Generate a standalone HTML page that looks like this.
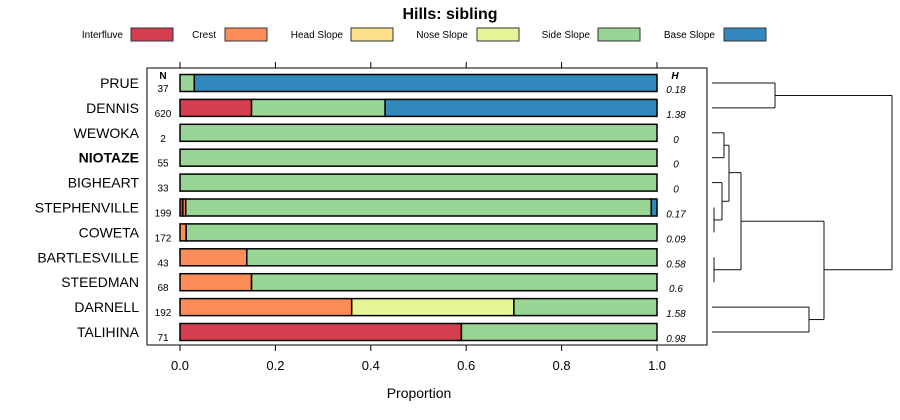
<!DOCTYPE html>
<html><head><meta charset="utf-8"><style>
body{margin:0;background:#fff;}
svg{display:block;font-family:"Liberation Sans",sans-serif;}
</style></head><body>
<svg id="c" width="900" height="420"></svg>
<script>
const categories=["PRUE","DENNIS","WEWOKA","NIOTAZE","BIGHEART","STEPHENVILLE","COWETA","BARTLESVILLE","STEEDMAN","DARNELL","TALIHINA"];
const nValues=[37,620,2,55,33,199,172,43,68,192,71];
const hValues=["0.18","1.38","0","0","0","0.17","0.09","0.58","0.6","1.58","0.98"];
const seriesNames=["Interfluve","Crest","Head Slope","Nose Slope","Side Slope","Base Slope"];
const interfluve=[0,0.15,0,0,0,0.006,0,0,0,0,0.59];
const crest=[0,0,0,0,0,0.006,0.013,0.14,0.15,0.36,0];
const headSlope=[0,0,0,0,0,0,0,0,0,0,0];
const noseSlope=[0,0,0,0,0,0,0,0,0,0.34,0];
const sideSlope=[0.03,0.28,1,1,1,0.976,0.987,0.86,0.85,0.30,0.41];
const baseSlope=[0.97,0.57,0,0,0,0.012,0,0,0,0,0];
const xTicks=[0,0.2,0.4,0.6,0.8,1.0];
const colors=["#d53e4f","#fc8d59","#fee08b","#e6f598","#99d594","#3288bd"];
const svg=document.getElementById('c');const NS="http://www.w3.org/2000/svg";
function el(t,a,txt){const e=document.createElementNS(NS,t);for(const k in a)e.setAttribute(k,a[k]);if(txt!==undefined)e.textContent=txt;svg.appendChild(e);return e;}
const x=v=>180+v*477;const y=i=>83+i*24.9;
let t=el('text',{x:450,y:19,'text-anchor':'middle','font-size':16,'font-weight':'bold'},'Hills: sibling');

const legX=[[123,131],[216,225],[343,351],[468,477],[590,598],[715,724]];
seriesNames.forEach((s,k)=>{
 let lt=el('text',{x:legX[k][0],y:38,'text-anchor':'end','font-size':10},s);
 
 let lr=el('rect',{x:legX[k][1],y:28,width:42,height:13,fill:colors[k],stroke:'#333','stroke-width':1});
 
});
let pb=el('rect',{x:147,y:68,width:560,height:277,fill:'none',stroke:'#000','stroke-width':1});

xTicks.forEach(v=>{
 let a=el('line',{x1:x(v),x2:x(v),y1:345,y2:351,stroke:'#000'});
 let b=el('line',{x1:x(v),x2:x(v),y1:62,y2:68,stroke:'#000'});
 let l=el('text',{x:x(v),y:370,'text-anchor':'middle','font-size':13},v.toFixed(1));
});
let xt=el('text',{x:419,y:398,'text-anchor':'middle','font-size':14},'Proportion');
let nh=el('text',{x:163,y:79,'text-anchor':'middle','font-size':10,'font-weight':'bold'},'N');
let hh=el('text',{x:675,y:79,'text-anchor':'middle','font-size':10,'font-weight':'bold','font-style':'italic'},'H');
const series=[interfluve,crest,headSlope,noseSlope,sideSlope,baseSlope];
categories.forEach((c,i)=>{
 let lab=el('text',{x:139,y:y(i)+5,'text-anchor':'end','font-size':14,'font-weight':c==='NIOTAZE'?'bold':'normal'},c);
 
 let n=el('text',{x:163,y:y(i)+9,'text-anchor':'middle','font-size':10},nValues[i]);
 let h=el('text',{x:676,y:y(i)+10,'text-anchor':'middle','font-size':10,'font-style':'italic'},hValues[i]);
 let cum=0;
 series.forEach((s,k)=>{const v=s[i];if(v<=0)return;
  let r=el('rect',{x:x(cum),y:y(i)-8.5,width:x(cum+v)-x(cum),height:17,fill:colors[k],stroke:'#000','stroke-width':1.5});
  cum+=v;});
});
const segs=[[712,0,775,0],[712,1,775,1],[775,0,775,1],
[712,2,724,2],[712,3,724,3],[724,2,724,3],
[714,5,714,6],[712,4,722,4],[714,5.5,722,5.5],[722,4,722,5.5],
[724,2.5,729,2.5],[722,4.75,729,4.75],[729,2.5,729,4.75],
[714,7,714,8],[714,7.5,741,7.5],[729,3.6,741,3.6],[741,3.6,741,7.5],
[712,9,809,9],[712,10,809,10],[809,9,809,10],[809,9.5,824,9.5],[741,5.55,824,5.55],[824,5.55,824,9.5],
[775,0.5,892,0.5],[824,7.5,892,7.5],[892,0.5,892,7.5]];
segs.forEach(s=>{let l=el('line',{x1:s[0],y1:y(s[1]),x2:s[2],y2:y(s[3]),stroke:'#111','stroke-width':1});
 });
</script>
</body></html>
